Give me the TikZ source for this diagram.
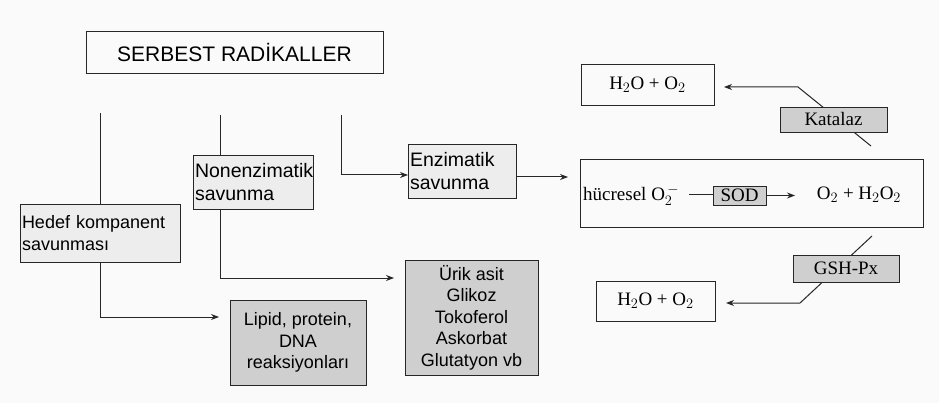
\documentclass[tikz,border=0pt]{standalone}
\usepackage{fontspec}
\setmainfont{Liberation Serif}
\setsansfont{Liberation Sans}
\usetikzlibrary{arrows.meta}
\begin{document}
\begin{tikzpicture}[x=1pt,y=-1pt,
  box/.style={draw=black!85, line width=0.9pt, inner sep=2pt, outer sep=0pt},
  lightbox/.style={box, fill=gray!14},
  darkbox/.style={box, fill=gray!38},
  sanstext/.style={font=\sffamily\fontsize{18}{21.5}\selectfont},
  sansbig/.style={font=\sffamily\fontsize{19.5}{22.5}\selectfont},
  seriftext/.style={font=\rmfamily\fontsize{19}{22}\selectfont},
  conn/.style={line width=1pt, black!85},
  arr/.style={conn, -{Stealth[length=8pt,width=6pt]}}]
\useasboundingbox (0,0) rectangle (939,403);
\fill[gray!4] (0,0) rectangle (939,403);

% nodes
\node[box, font=\sffamily\fontsize{21}{24}\selectfont, minimum width=297, minimum height=42] (sr) at (234.5,52) {SERBEST RADİKALLER};
\node[lightbox, sansbig, minimum width=120, minimum height=54, align=left, text width=116, inner sep=1pt] (nonenz) at (253,182) {Nonenzimatik\\savunma};
\node[lightbox, sansbig, minimum width=108, minimum height=54, align=left, text width=104, inner sep=1pt] (enz) at (462,171) {Enzimatik\\savunma};
\node[lightbox, sanstext, minimum width=160, minimum height=58, align=left, text width=156, inner sep=1pt] (hedef) at (100,233) {Hedef kompanent\\savunması};
\node[darkbox, sanstext, minimum width=136, minimum height=85, align=center] (lipid) at (298,342.5) {Lipid, protein,\\DNA\\reaksiyonları};
\node[darkbox, sanstext, minimum width=133, minimum height=115, align=center] (urik) at (471.5,317.5) {Ürik asit\\Glikoz\\Tokoferol\\Askorbat\\Glutatyon vb};
\node[box, minimum width=343, minimum height=68] (big) at (751.5,193) {};
\node[darkbox, seriftext, minimum width=53, minimum height=19, inner sep=0pt] (sod) at (739.5,195.5) {SOD};
\node[seriftext, anchor=west, inner sep=0pt] (hucre) at (583,195) {hücresel O$_2^{\,-}$};
\node[seriftext, inner sep=0pt] (prod) at (859,195) {O$_2$ + H$_2$O$_2$};
\node[box, seriftext, minimum width=133, minimum height=41] (htop) at (647.5,84.5) {H$_2$O + O$_2$};
\node[box, seriftext, minimum width=119, minimum height=40] (hbot) at (655.5,301) {H$_2$O + O$_2$};

% connector coordinates
\coordinate (t1) at (100,113);
\coordinate (t2) at (220,115);
\coordinate (t3) at (341,115);
\coordinate (c1) at (100,317);
\coordinate (c2) at (220,278);
\coordinate (c3) at (341,175);
\coordinate (k1) at (871,146);
\coordinate (k2) at (798,87);
\coordinate (g1) at (872,236);
\coordinate (g2) at (800,303);

% connectors
\draw[conn] (t1) -- (hedef.north);
\draw[arr, shorten >=11pt] (hedef.south) -- (c1) -- (c1 -| lipid.west);
\draw[conn] (t2) -- (t2 |- nonenz.north);
\draw[arr, shorten >=11pt] (c2 |- nonenz.south) -- (c2) -- (c2 -| urik.west);
\draw[arr] (t3) -- (c3) -- (c3 -| enz.west);
\draw[arr, shorten >=12pt] (enz.east |- 0,177) -- (big.west |- 0,177);
\draw[conn] (hucre.east) ++(10,0) coordinate (hs) (hs) -- (sod.west |- hs);
\draw[arr] (sod.east) -- ++(29,0) coordinate (se);
\draw[arr, shorten >=10pt] (k1) -- (k2) -- (k2 -| htop.east);
\draw[arr, shorten >=11pt] (g1) -- (g2) -- (g2 -| hbot.east);

% enzyme labels drawn over the connectors
\node[darkbox, seriftext, minimum width=107, minimum height=25, inner sep=0pt] (katalaz) at (833.5,119.5) {Katalaz};
\node[darkbox, seriftext, minimum width=106, minimum height=27, inner sep=0pt] (gsh) at (846,268.5) {GSH-Px};
\end{tikzpicture}
\end{document}
